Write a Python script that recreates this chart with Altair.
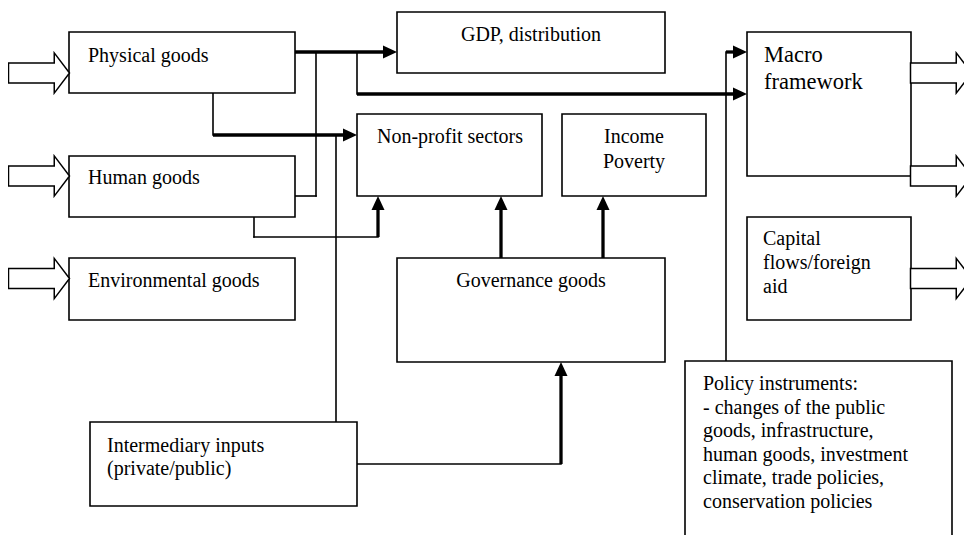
import altair as alt
import pandas as pd

# ---------------- data (diagram coordinates in page pixels) ----------------
box_names = ["Physical goods", "Human goods", "Environmental goods", "GDP, distribution",
             "Non-profit sectors", "Income Poverty", "Governance goods",
             "Intermediary inputs", "Macro framework", "Capital flows/foreign aid",
             "Policy instruments"]
box_left = [69, 69, 69, 397, 357, 562, 397, 90, 747, 747, 685]
box_right = [295, 295, 295, 665, 542, 706, 665, 357, 911, 911, 952]
box_top = [32, 156, 258, 12, 114, 114, 258, 422, 32, 217, 361]
box_bottom = [93, 217, 320, 73, 196, 196, 362, 506, 176, 320, 570]

# connector segments
seg_x1 = [295, 357, 213, 378, 501, 603, 561, 726,
          357, 213, 316, 295, 336, 254, 254, 357, 726]
seg_y1 = [52, 94, 135, 237, 258, 258, 464, 52,
          52, 93, 52, 196, 135, 217, 237, 464, 361]
seg_x2 = [390, 740, 350, 378, 501, 603, 561, 740,
          357, 213, 316, 316, 336, 254, 378, 561, 726]
seg_y2 = [52, 94, 135, 203, 203, 203, 369, 52,
          94, 135, 196, 196, 422, 237, 237, 464, 52]
seg_weight = ["thick"] * 8 + ["thin"] * 9

# arrow heads (tip positions)
head_x = [397, 747, 357, 747, 378, 501, 603, 561]
head_y = [52, 94, 135, 52, 196, 196, 196, 362]
head_dir = ["right", "right", "right", "right", "up", "up", "up", "up"]

# hollow block arrows (centres)
block_x = [39, 39, 39, 941, 941, 941]
block_y = [73, 176, 278.5, 73, 176, 278.5]

# labels
label_text = ["Physical goods", "Human goods", "Environmental goods",
              "Intermediary inputs", "(private/public)",
              "Capital", "flows/foreign", "aid",
              "Policy instruments:", "- changes of the public",
              "goods, infrastructure,", "human goods, investment",
              "climate, trade policies,", "conservation policies"]
label_x = [88, 88, 88, 107, 107, 763, 763, 763,
           703, 703, 703, 703, 703, 703]
label_y = [62, 184, 287, 452, 475, 245, 269, 293,
           390, 413.5, 437, 460.5, 484, 507.5]

clabel_text = ["GDP, distribution", "Non-profit sectors", "Income", "Poverty",
               "Governance goods"]
clabel_x = [531, 450, 634, 634, 531]
clabel_y = [41, 143, 143, 168, 287]

macro_text = ["Macro", "framework"]
macro_x = [764, 764]
macro_y = [62, 89]

# ---------------- chart ----------------
W, H = 956, 527
FONT = "Liberation Serif"
xs = alt.Scale(domain=[8, 8 + W], nice=False, zero=False)
ys = alt.Scale(domain=[8, 8 + H], nice=False, zero=False, reverse=True)

boxes = pd.DataFrame({"name": box_names, "x0": box_left, "x1": box_right,
                      "y0": box_top, "y1": box_bottom})
segs = pd.DataFrame({"x1": seg_x1, "y1": seg_y1, "x2": seg_x2, "y2": seg_y2,
                     "w": seg_weight})
heads = pd.DataFrame({"x": head_x, "y": head_y, "d": head_dir})
blocks = pd.DataFrame({"x": block_x, "y": block_y})
labels = pd.DataFrame({"t": label_text, "x": label_x, "y": label_y})
clabels = pd.DataFrame({"t": clabel_text, "x": clabel_x, "y": clabel_y})
mlabels = pd.DataFrame({"t": macro_text, "x": macro_x, "y": macro_y})

BLOCK_PATH = "M-1,-0.33 L0.5,-0.33 L0.5,-0.66 L1,0 L0.5,0.66 L0.5,0.33 L-1,0.33 Z"
RIGHT_HEAD = "M0,0 L-2,-0.93 L-2,0.93 Z"
UP_HEAD = "M0,0 L-0.93,2 L0.93,2 Z"

rects = alt.Chart(boxes).mark_rect(fill="white", stroke="black", strokeWidth=1.6).encode(
    x=alt.X("x0:Q", scale=xs, axis=None), x2="x1:Q",
    y=alt.Y("y0:Q", scale=ys, axis=None), y2="y1:Q")

thin = alt.Chart(segs).transform_filter(alt.datum.w == "thin").mark_rule(
    color="black", strokeWidth=1.6, strokeCap="square").encode(
    x=alt.X("x1:Q", scale=xs, axis=None), x2="x2:Q",
    y=alt.Y("y1:Q", scale=ys, axis=None), y2="y2:Q")

thick = alt.Chart(segs).transform_filter(alt.datum.w == "thick").mark_rule(
    color="black", strokeWidth=3.3, strokeCap="butt").encode(
    x=alt.X("x1:Q", scale=xs, axis=None), x2="x2:Q",
    y=alt.Y("y1:Q", scale=ys, axis=None), y2="y2:Q")

rheads = alt.Chart(heads).transform_filter(alt.datum.d == "right").mark_point(
    shape=RIGHT_HEAD, filled=True, color="black", opacity=1, size=196).encode(
    x=alt.X("x:Q", scale=xs, axis=None), y=alt.Y("y:Q", scale=ys, axis=None))

uheads = alt.Chart(heads).transform_filter(alt.datum.d == "up").mark_point(
    shape=UP_HEAD, filled=True, color="black", opacity=1, size=196).encode(
    x=alt.X("x:Q", scale=xs, axis=None), y=alt.Y("y:Q", scale=ys, axis=None))

barrows = alt.Chart(blocks).mark_point(
    shape=BLOCK_PATH, filled=True, fill="white", stroke="black", strokeWidth=1.5,
    opacity=1, size=3721).encode(
    x=alt.X("x:Q", scale=xs, axis=None), y=alt.Y("y:Q", scale=ys, axis=None))

ltext = alt.Chart(labels).mark_text(
    align="left", baseline="alphabetic", font=FONT, fontSize=20, color="black").encode(
    x=alt.X("x:Q", scale=xs, axis=None), y=alt.Y("y:Q", scale=ys, axis=None), text="t:N")

ctext = alt.Chart(clabels).mark_text(
    align="center", baseline="alphabetic", font=FONT, fontSize=20, color="black").encode(
    x=alt.X("x:Q", scale=xs, axis=None), y=alt.Y("y:Q", scale=ys, axis=None), text="t:N")

mtext = alt.Chart(mlabels).mark_text(
    align="left", baseline="alphabetic", font=FONT, fontSize=22.5, color="black").encode(
    x=alt.X("x:Q", scale=xs, axis=None), y=alt.Y("y:Q", scale=ys, axis=None), text="t:N")

chart = alt.layer(thin, thick, rects, barrows, rheads, uheads, ltext, ctext, mtext).properties(
    width=W, height=H, padding=0, autosize=alt.AutoSizeParams(type="none"),
    background="white"
).configure_view(stroke=None)

chart.save("out.html", embed_options={"renderer": "svg", "actions": False})
